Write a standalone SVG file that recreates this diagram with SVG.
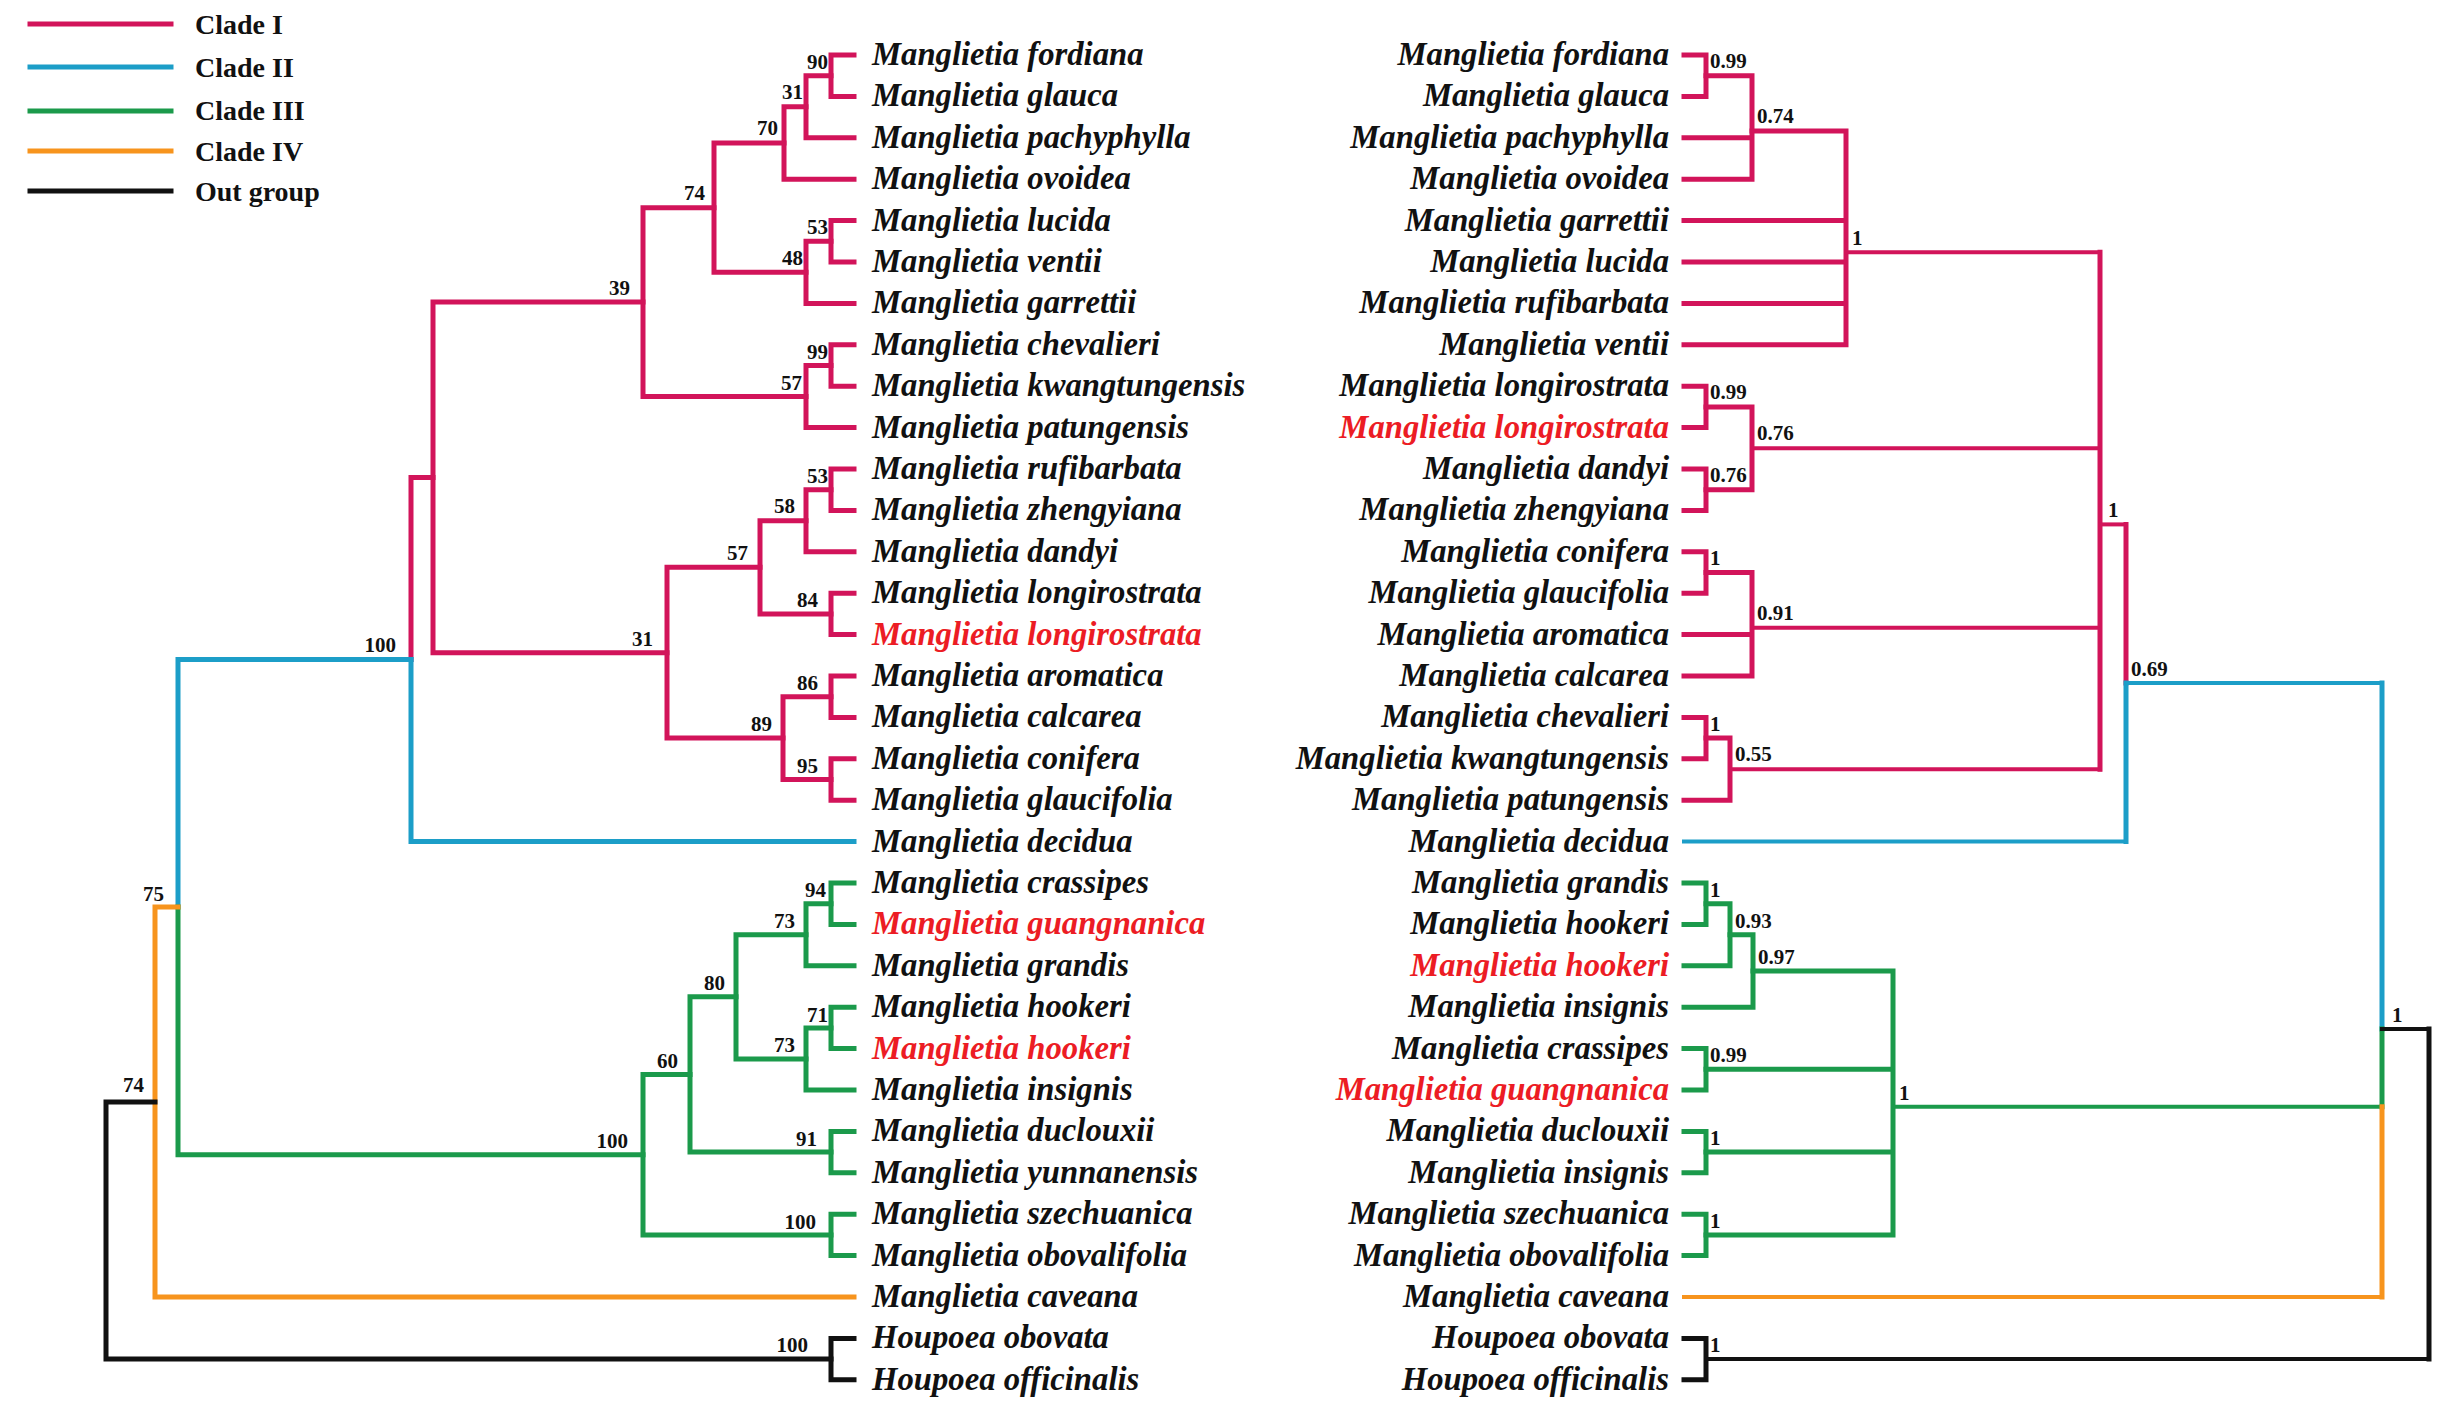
<svg xmlns="http://www.w3.org/2000/svg" width="2450" height="1414" viewBox="0 0 2450 1414">
<style>
.t{font-family:"Liberation Serif","Times New Roman",serif;font-weight:bold;font-style:italic;font-size:32.7px;fill:#111}
.e{text-anchor:end}
.hl{fill:#ec1c24}
.s{font-family:"Liberation Serif","Times New Roman",serif;font-weight:bold;font-size:21px;fill:#111}
.lg{font-family:"Liberation Serif","Times New Roman",serif;font-weight:bold;font-size:28px;fill:#111}
.ln{fill:none;stroke-width:5;stroke-linejoin:miter;stroke-linecap:square}
.th{stroke-width:4}
.c1{stroke:#d2145a}
.c2{stroke:#1c9ec8}
.c3{stroke:#1b9a4b}
.c4{stroke:#f7941d}
.c0{stroke:#111}
</style>
<rect width="2450" height="1414" fill="#fff"/>

<g id="legend">
<path class="ln c1" d="M30 24H171"/><text class="lg" x="195" y="34">Clade I</text>
<path class="ln c2" d="M30 67H171"/><text class="lg" x="195" y="77">Clade II</text>
<path class="ln c3" d="M30 111H171"/><text class="lg" x="195" y="120">Clade III</text>
<path class="ln c4" d="M30 151H171"/><text class="lg" x="195" y="161">Clade IV</text>
<path class="ln c0" d="M30 191H171"/><text class="lg" x="195" y="201">Out group</text>
</g>

<g id="connectors">
<!-- left tree, Clade I -->
<path class="ln c1" d="M854 55H831V96.4H854"/>
<path class="ln c1" d="M831 75.7H806V137.8H854"/>
<path class="ln c1" d="M806 106.75H784V179.2H854"/>
<path class="ln c1" d="M854 220.6H831V262H854"/>
<path class="ln c1" d="M831 241.3H806V303.4H854"/>
<path class="ln c1" d="M784 143H714V272.35H806"/>
<path class="ln c1" d="M854 344.8H831V386.2H854"/>
<path class="ln c1" d="M831 365.5H806V427.6H854"/>
<path class="ln c1" d="M714 207.7H643V396.55H806"/>
<path class="ln c1" d="M854 469H831V510.4H854"/>
<path class="ln c1" d="M831 489.7H806V551.8H854"/>
<path class="ln c1" d="M854 593.2H831V634.6H854"/>
<path class="ln c1" d="M806 520.75H760V613.9H831"/>
<path class="ln c1" d="M854 676H831V717.4H854"/>
<path class="ln c1" d="M854 758.8H831V800.2H854"/>
<path class="ln c1" d="M831 696.7H783V779.5H831"/>
<path class="ln c1" d="M760 567.3H667V738.1H783"/>
<path class="ln c1" d="M643 302.1H433V652.7H667"/>
<path class="ln c1" d="M433 477.4H411V659.5"/>
<!-- Clade II -->
<path class="ln c2" d="M411 659.5V841.6H854"/>
<path class="ln c2" d="M411 659.5H178V907.1"/>
<!-- Clade III -->
<path class="ln c3" d="M854 883H831V924.4H854"/>
<path class="ln c3" d="M831 903.7H806V965.8H854"/>
<path class="ln c3" d="M854 1007.2H831V1048.6H854"/>
<path class="ln c3" d="M831 1027.9H806V1090H854"/>
<path class="ln c3" d="M806 934.75H736V1058.95H806"/>
<path class="ln c3" d="M854 1131.4H831V1172.8H854"/>
<path class="ln c3" d="M736 996.85H690V1152.1H831"/>
<path class="ln c3" d="M854 1214.2H831V1255.6H854"/>
<path class="ln c3" d="M690 1074.5H643V1234.9H831"/>
<path class="ln c3" d="M643 1154.7H178V907.1"/>
<!-- Clade IV -->
<path class="ln c4" d="M178 907.1H155V1297H854"/>
<!-- out group -->
<path class="ln c0" d="M155 1102H106V1359.1H831"/>
<path class="ln c0" d="M854 1338.4H831V1379.8H854"/>

<!-- right tree, Clade I -->
<path class="ln c1" d="M1684 55H1706V96.4H1684"/>
<path class="ln c1" d="M1706 75.7H1752V179.2H1684M1684 137.8H1752"/>
<path class="ln c1" d="M1752 130.9H1846V344.8H1684M1684 220.6H1846M1684 262H1846M1684 303.4H1846"/>
<path class="ln c1" d="M1684 386.2H1706V427.6H1684"/>
<path class="ln c1" d="M1684 469H1706V510.4H1684"/>
<path class="ln c1" d="M1706 406.9H1752V489.7H1706"/>
<path class="ln c1" d="M1684 551.8H1706V593.2H1684"/>
<path class="ln c1" d="M1706 572.5H1752V676H1684M1684 634.6H1752"/>
<path class="ln c1" d="M1684 717.4H1706V758.8H1684"/>
<path class="ln c1" d="M1706 738.1H1730V800.2H1684"/>
<path class="ln th c1" d="M1846 252.3H2100M1752 448.3H2100M1752 627.7H2100M1730 769.15H2100"/>
<path class="ln c1" d="M2100 252.3V769.15"/>
<path class="ln th c1" d="M2100 524.4H2126"/>
<path class="ln c1" d="M2126 524.4V683"/>
<!-- Clade II -->
<path class="ln th c2" d="M1684 841.6H2126"/>
<path class="ln c2" d="M2126 841.6V683"/>
<path class="ln th c2" d="M2126 683H2382"/>
<path class="ln c2" d="M2382 683V1028.9"/>
<!-- Clade III -->
<path class="ln c3" d="M1684 883H1706V924.4H1684"/>
<path class="ln c3" d="M1706 903.7H1730V965.8H1684"/>
<path class="ln c3" d="M1730 934.75H1753V1007.2H1684"/>
<path class="ln c3" d="M1684 1048.6H1706V1090H1684"/>
<path class="ln c3" d="M1684 1131.4H1706V1172.8H1684"/>
<path class="ln c3" d="M1684 1214.2H1706V1255.6H1684"/>
<path class="ln c3" d="M1753 971H1893V1234.9H1706M1706 1069.3H1893M1706 1152.1H1893"/>
<path class="ln th c3" d="M1893 1106.8H2382"/>
<path class="ln c3" d="M2382 1028.9V1106.8"/>
<!-- Clade IV -->
<path class="ln th c4" d="M1684 1297H2382"/>
<path class="ln c4" d="M2382 1297V1106.8"/>
<!-- out group -->
<path class="ln c0" d="M1684 1338.4H1706V1379.8H1684"/>
<path class="ln th c0" d="M2382 1028.9H2429M1706 1359.1H2429"/>
<path class="ln c0" d="M2429 1028.9V1359.1"/>
</g>

<g id="left-taxa">
<g id="L00"><text class="t" x="872" y="65">Manglietia fordiana</text></g>
<g id="L01"><text class="t" x="872" y="106.4">Manglietia glauca</text></g>
<g id="L02"><text class="t" x="872" y="147.8">Manglietia pachyphylla</text></g>
<g id="L03"><text class="t" x="872" y="189.2">Manglietia ovoidea</text></g>
<g id="L04"><text class="t" x="872" y="230.6">Manglietia lucida</text></g>
<g id="L05"><text class="t" x="872" y="272">Manglietia ventii</text></g>
<g id="L06"><text class="t" x="872" y="313.4">Manglietia garrettii</text></g>
<g id="L07"><text class="t" x="872" y="354.8">Manglietia chevalieri</text></g>
<g id="L08"><text class="t" x="872" y="396.2">Manglietia kwangtungensis</text></g>
<g id="L09"><text class="t" x="872" y="437.6">Manglietia patungensis</text></g>
<g id="L10"><text class="t" x="872" y="479">Manglietia rufibarbata</text></g>
<g id="L11"><text class="t" x="872" y="520.4">Manglietia zhengyiana</text></g>
<g id="L12"><text class="t" x="872" y="561.8">Manglietia dandyi</text></g>
<g id="L13"><text class="t" x="872" y="603.2">Manglietia longirostrata</text></g>
<g id="L14"><text class="t hl" x="872" y="644.6">Manglietia longirostrata</text></g>
<g id="L15"><text class="t" x="872" y="686">Manglietia aromatica</text></g>
<g id="L16"><text class="t" x="872" y="727.4">Manglietia calcarea</text></g>
<g id="L17"><text class="t" x="872" y="768.8">Manglietia conifera</text></g>
<g id="L18"><text class="t" x="872" y="810.2">Manglietia glaucifolia</text></g>
<g id="L19"><text class="t" x="872" y="851.6">Manglietia decidua</text></g>
<g id="L20"><text class="t" x="872" y="893">Manglietia crassipes</text></g>
<g id="L21"><text class="t hl" x="872" y="934.4">Manglietia guangnanica</text></g>
<g id="L22"><text class="t" x="872" y="975.8">Manglietia grandis</text></g>
<g id="L23"><text class="t" x="872" y="1017.2">Manglietia hookeri</text></g>
<g id="L24"><text class="t hl" x="872" y="1058.6">Manglietia hookeri</text></g>
<g id="L25"><text class="t" x="872" y="1100">Manglietia insignis</text></g>
<g id="L26"><text class="t" x="872" y="1141.4">Manglietia duclouxii</text></g>
<g id="L27"><text class="t" x="872" y="1182.8">Manglietia yunnanensis</text></g>
<g id="L28"><text class="t" x="872" y="1224.2">Manglietia szechuanica</text></g>
<g id="L29"><text class="t" x="872" y="1265.6">Manglietia obovalifolia</text></g>
<g id="L30"><text class="t" x="872" y="1307">Manglietia caveana</text></g>
<g id="L31"><text class="t" x="872" y="1348.4">Houpoea obovata</text></g>
<g id="L32"><text class="t" x="872" y="1389.8">Houpoea officinalis</text></g>
</g>

<g id="right-taxa">
<g id="R00"><text class="t e" x="1669" y="65">Manglietia fordiana</text></g>
<g id="R01"><text class="t e" x="1669" y="106.4">Manglietia glauca</text></g>
<g id="R02"><text class="t e" x="1669" y="147.8">Manglietia pachyphylla</text></g>
<g id="R03"><text class="t e" x="1669" y="189.2">Manglietia ovoidea</text></g>
<g id="R04"><text class="t e" x="1669" y="230.6">Manglietia garrettii</text></g>
<g id="R05"><text class="t e" x="1669" y="272">Manglietia lucida</text></g>
<g id="R06"><text class="t e" x="1669" y="313.4">Manglietia rufibarbata</text></g>
<g id="R07"><text class="t e" x="1669" y="354.8">Manglietia ventii</text></g>
<g id="R08"><text class="t e" x="1669" y="396.2">Manglietia longirostrata</text></g>
<g id="R09"><text class="t e hl" x="1669" y="437.6">Manglietia longirostrata</text></g>
<g id="R10"><text class="t e" x="1669" y="479">Manglietia dandyi</text></g>
<g id="R11"><text class="t e" x="1669" y="520.4">Manglietia zhengyiana</text></g>
<g id="R12"><text class="t e" x="1669" y="561.8">Manglietia conifera</text></g>
<g id="R13"><text class="t e" x="1669" y="603.2">Manglietia glaucifolia</text></g>
<g id="R14"><text class="t e" x="1669" y="644.6">Manglietia aromatica</text></g>
<g id="R15"><text class="t e" x="1669" y="686">Manglietia calcarea</text></g>
<g id="R16"><text class="t e" x="1669" y="727.4">Manglietia chevalieri</text></g>
<g id="R17"><text class="t e" x="1669" y="768.8">Manglietia kwangtungensis</text></g>
<g id="R18"><text class="t e" x="1669" y="810.2">Manglietia patungensis</text></g>
<g id="R19"><text class="t e" x="1669" y="851.6">Manglietia decidua</text></g>
<g id="R20"><text class="t e" x="1669" y="893">Manglietia grandis</text></g>
<g id="R21"><text class="t e" x="1669" y="934.4">Manglietia hookeri</text></g>
<g id="R22"><text class="t e hl" x="1669" y="975.8">Manglietia hookeri</text></g>
<g id="R23"><text class="t e" x="1669" y="1017.2">Manglietia insignis</text></g>
<g id="R24"><text class="t e" x="1669" y="1058.6">Manglietia crassipes</text></g>
<g id="R25"><text class="t e hl" x="1669" y="1100">Manglietia guangnanica</text></g>
<g id="R26"><text class="t e" x="1669" y="1141.4">Manglietia duclouxii</text></g>
<g id="R27"><text class="t e" x="1669" y="1182.8">Manglietia insignis</text></g>
<g id="R28"><text class="t e" x="1669" y="1224.2">Manglietia szechuanica</text></g>
<g id="R29"><text class="t e" x="1669" y="1265.6">Manglietia obovalifolia</text></g>
<g id="R30"><text class="t e" x="1669" y="1307">Manglietia caveana</text></g>
<g id="R31"><text class="t e" x="1669" y="1348.4">Houpoea obovata</text></g>
<g id="R32"><text class="t e" x="1669" y="1389.8">Houpoea officinalis</text></g>
</g>

<g id="left-support">
<g id="ls90"><text class="s e" x="828" y="69">90</text></g>
<g id="ls31a"><text class="s e" x="803" y="99">31</text></g>
<g id="ls70"><text class="s e" x="778" y="135">70</text></g>
<g id="ls74a"><text class="s e" x="705" y="200">74</text></g>
<g id="ls53a"><text class="s e" x="828" y="234">53</text></g>
<g id="ls48"><text class="s e" x="803" y="265">48</text></g>
<g id="ls39"><text class="s e" x="630" y="295">39</text></g>
<g id="ls99"><text class="s e" x="828" y="359">99</text></g>
<g id="ls57a"><text class="s e" x="802" y="390">57</text></g>
<g id="ls53b"><text class="s e" x="828" y="483">53</text></g>
<g id="ls58"><text class="s e" x="795" y="513">58</text></g>
<g id="ls57b"><text class="s e" x="748" y="560">57</text></g>
<g id="ls84"><text class="s e" x="818" y="607">84</text></g>
<g id="ls31b"><text class="s e" x="653" y="646">31</text></g>
<g id="ls86"><text class="s e" x="818" y="690">86</text></g>
<g id="ls89"><text class="s e" x="772" y="731">89</text></g>
<g id="ls95"><text class="s e" x="818" y="773">95</text></g>
<g id="ls100a"><text class="s e" x="396" y="652">100</text></g>
<g id="ls94"><text class="s e" x="826" y="897">94</text></g>
<g id="ls73a"><text class="s e" x="795" y="928">73</text></g>
<g id="ls71"><text class="s e" x="828" y="1022">71</text></g>
<g id="ls73b"><text class="s e" x="795" y="1052">73</text></g>
<g id="ls80"><text class="s e" x="725" y="990">80</text></g>
<g id="ls60"><text class="s e" x="678" y="1068">60</text></g>
<g id="ls91"><text class="s e" x="817" y="1146">91</text></g>
<g id="ls100b"><text class="s e" x="628" y="1148">100</text></g>
<g id="ls100c"><text class="s e" x="816" y="1229">100</text></g>
<g id="ls100d"><text class="s e" x="808" y="1352">100</text></g>
<g id="ls75"><text class="s e" x="164" y="901">75</text></g>
<g id="ls74b"><text class="s e" x="144" y="1092">74</text></g>
</g>

<g id="right-support">
<g id="rs1"><text class="s" x="1710" y="68">0.99</text></g>
<g id="rs2"><text class="s" x="1757" y="123">0.74</text></g>
<g id="rs3"><text class="s" x="1852" y="245">1</text></g>
<g id="rs4"><text class="s" x="1710" y="399">0.99</text></g>
<g id="rs5"><text class="s" x="1757" y="440">0.76</text></g>
<g id="rs6"><text class="s" x="1710" y="482">0.76</text></g>
<g id="rs7"><text class="s" x="1710" y="565">1</text></g>
<g id="rs8"><text class="s" x="1757" y="620">0.91</text></g>
<g id="rs9"><text class="s" x="1710" y="731">1</text></g>
<g id="rs10"><text class="s" x="1735" y="761">0.55</text></g>
<g id="rs11"><text class="s" x="2108" y="517">1</text></g>
<g id="rs12"><text class="s" x="2131" y="676">0.69</text></g>
<g id="rs13"><text class="s" x="1710" y="897">1</text></g>
<g id="rs14"><text class="s" x="1735" y="928">0.93</text></g>
<g id="rs15"><text class="s" x="1758" y="964">0.97</text></g>
<g id="rs16"><text class="s" x="1710" y="1062">0.99</text></g>
<g id="rs17"><text class="s" x="1710" y="1145">1</text></g>
<g id="rs18"><text class="s" x="1710" y="1228">1</text></g>
<g id="rs19"><text class="s" x="1899" y="1100">1</text></g>
<g id="rs20"><text class="s" x="2392" y="1022">1</text></g>
<g id="rs21"><text class="s" x="1710" y="1352">1</text></g>
</g>
</svg>
